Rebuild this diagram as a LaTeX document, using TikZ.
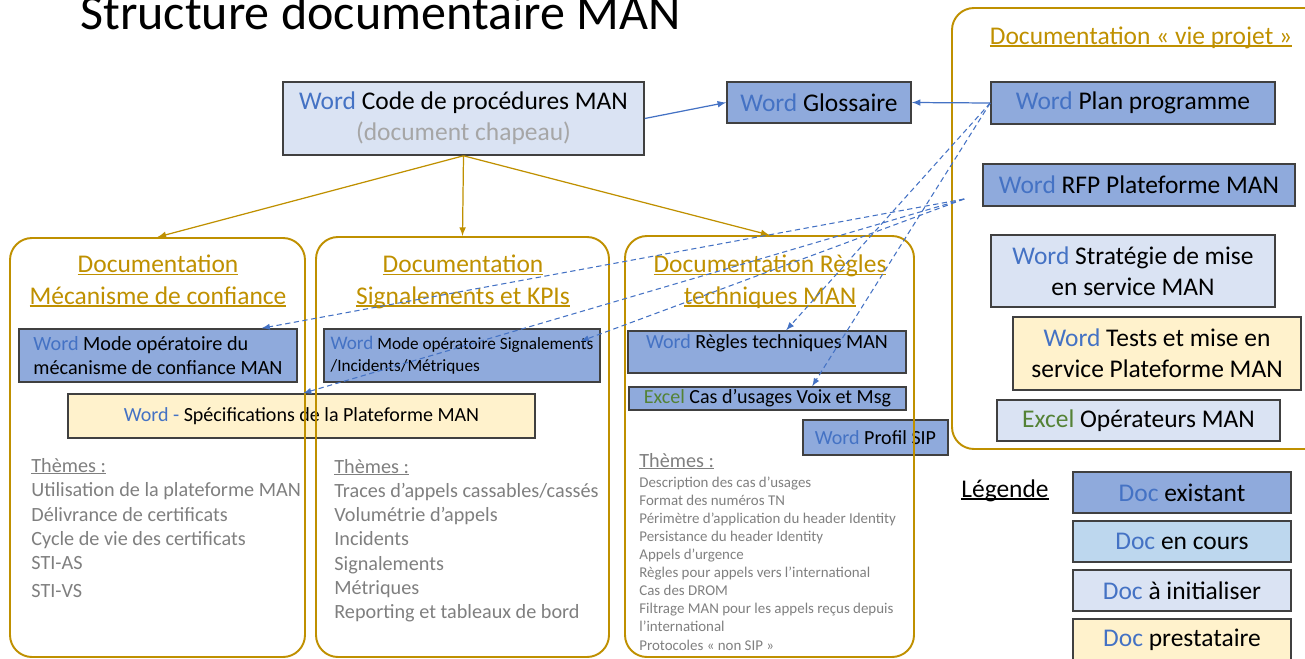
\documentclass[tikz,border=0pt]{standalone}
\usepackage{fontspec}
\setmainfont{Carlito}
\usetikzlibrary{calc}
\definecolor{wordblue}{RGB}{68,114,196}
\definecolor{excelgreen}{RGB}{84,130,53}
\definecolor{docgold}{RGB}{191,144,0}
\definecolor{existfill}{RGB}{143,170,220}
\definecolor{coursfill}{RGB}{189,215,238}
\definecolor{initfill}{RGB}{218,227,243}
\definecolor{prestfill}{RGB}{255,242,204}
\definecolor{themegray}{RGB}{127,127,127}
\definecolor{chapgray}{RGB}{166,166,166}
\newdimen\px \px=0.02cm
\newcommand{\word}{\textcolor{wordblue}{Word}}
\newcommand{\excel}{\textcolor{excelgreen}{Excel}}
\newcommand{\fsz}[2]{\fontsize{#1}{#2}\selectfont}
\newcommand{\ul}[1]{\setbox0\hbox{#1}\rlap{\rule[-0.12em]{\wd0}{0.065em}}\box0}

\begin{document}
\begin{tikzpicture}[x=0.02cm, y=-0.02cm, >=latex,
    box/.style={draw=black!75, line width=0.9pt, inner sep=0pt, align=center, font=\fsz{14.5}{17.8}},
    small/.style={font=\fsz{11.4}{13.6}},
    frame/.style={draw=docgold, line width=1.1pt, rounded corners=0.44cm},
    head/.style={text=docgold, align=center, anchor=base, font=\fsz{14.5}{18.1}},
    theme/.style={text=themegray, anchor=base west, inner sep=0pt, font=\fsz{11.5}{13.8}},
    tiny/.style={text=themegray, anchor=base west, inner sep=0pt, font=\fsz{8.5}{10}},
    down/.style={->, draw=docgold, line width=0.7pt},
    link/.style={->, draw=wordblue, line width=0.7pt},
    ref/.style={->, draw=wordblue, densely dashed, line width=0.6pt}]
    \clip (0,0) rectangle (1305,659);

    \node (title) at (80,30) [anchor=base west, inner sep=0pt, font=\fsz{28.5}{34}] {Structure documentaire MAN};

    % document chapeau
    \node (code) at (463.5,118.5) [box, fill=initfill, minimum width=361\px, minimum height=73\px] {\word{} Code de procédures MAN\\\textcolor{chapgray}{(document chapeau)}};
    \node (gloss) at (819,102.5) [box, fill=existfill, minimum width=184\px, minimum height=41\px] {\word{} Glossaire};

    % vie projet
    \node (plan) at (1133,103) [box, fill=existfill, minimum width=284\px, minimum height=42\px] {\word{} Plan programme};
    \node (rfp) at (1139,185) [box, fill=existfill, minimum width=312\px, minimum height=42\px] {\word{} RFP Plateforme MAN};
    \node (strat) at (1133,271) [box, fill=initfill, minimum width=284\px, minimum height=72\px] {\word{} Stratégie de mise\\en service MAN};
    \node (tests) at (1157,353.5) [box, fill=prestfill, minimum width=288\px, minimum height=73\px] {\word{} Tests et mise en\\service Plateforme MAN};
    \node (oper) at (1138.5,420.5) [box, fill=initfill, minimum width=283\px, minimum height=41\px] {\excel{} Opérateurs MAN};
    \node (vie) at (1146,228.5) [frame, minimum width=388\px, minimum height=441\px] {};
    \node (vietitle) at (1141,44) [head] {\ul{Documentation «~vie projet~»}};

    % legende
    \node (legende) at (1005,497) [anchor=base, font=\fsz{14.5}{18}] {\ul{Légende}};
    \foreach \fc/\txt [count=\i] in {existfill/existant, coursfill/en cours, initfill/à initialiser, prestfill/prestataire}
    \node (leg\i) at (1182,443.5+49*\i) [box, fill=\fc, minimum width=218\px, minimum height=41\px] {\textcolor{wordblue}{Doc} \txt};

    % documents des colonnes
    \node (modeA) at (158,355.5) [box, fill=existfill, minimum width=278\px, minimum height=53\px, align=left, font=\fsz{11.5}{13.6}] {\word{} Mode opératoire du\\mécanisme de confiance MAN};
    \node (modeB) at (462,355.5) [box, fill=existfill, minimum width=276\px, minimum height=53\px, align=left, font=\fsz{9.8}{12.5}] {{\fsz{10.9}{12.5}\word} Mode opératoire Signalements\\/Incidents/Métriques};
    \node (spec) at (301.5,416) [box, fill=prestfill, minimum width=467\px, minimum height=44\px, small] {\textcolor{wordblue}{Word -} Spécifications de la Plateforme MAN};
    \node (regles) at (767,352) [box, fill=existfill, minimum width=278\px, minimum height=42\px] {};
    \node (reglestxt) at ($(regles.north)+(0,18)$) [anchor=base, small] {\word{} Règles techniques MAN};
    \node (cas) at (767.5,398.5) [box, fill=existfill, minimum width=277\px, minimum height=23\px, small] {\excel{} Cas d’usages Voix et Msg};
    \node (sip) at (875.5,437.5) [box, fill=existfill, minimum width=145\px, minimum height=35\px, small] {\word{} Profil SIP};

    % colonnes
    \node (col1) at (157.5,447.5) [frame, minimum width=295\px, minimum height=419\px] {};
    \node (col2) at (462.5,447) [frame, minimum width=293\px, minimum height=420\px] {};
    \node (col3) at (769.5,446.5) [frame, minimum width=289\px, minimum height=421\px] {};
    \node (col1title) at (158,304) [head] {\ul{Documentation}\\\ul{Mécanisme de confiance}};
    \node (col2title) at (463,304) [head] {\ul{Documentation}\\\ul{Signalements et KPIs}};
    \node (col3title) at (770,304) [head] {\ul{Documentation Règles}\\\ul{techniques MAN}};

    % themes
    \node (th1) at (31,472) [theme] {\ul{Thèmes :}};
    \foreach \y/\txt in {496.5/Utilisation de la plateforme MAN, 521/Délivrance de certificats, 545/Cycle de vie des certificats, 569.5/STI-AS, 597/STI-VS}
    \node at (31,\y) [theme] {\txt};
    \node (th2) at (334,473) [theme] {\ul{Thèmes :}};
    \foreach \txt [count=\i] in {Traces d’appels cassables/cassés, Volumétrie d’appels, Incidents, Signalements, Métriques, Reporting et tableaux de bord}
    \node at (334,473+24.3*\i) [theme] {\txt};
    \node (th3) at (639,467) [theme] {\ul{Thèmes :}};
    \foreach \txt [count=\i] in {Description des cas d’usages, Format des numéros TN, Périmètre d’application du header Identity, Persistance du header Identity, Appels d’urgence, Règles pour appels vers l’international, Cas des DROM, Filtrage MAN pour les appels reçus depuis, l’international, Protocoles «~non SIP~»}
    \node at (639,469+18.1*\i) [tiny] {\txt};

    % liens
    \draw [down] (code.south) -- (col1.north);
    \draw [down] (code.south) -- (col2.north);
    \draw [down] (code.south) -- (col3.north);
    \draw [link] (code.east) -- (gloss.west);
    \draw [link] (plan.west) -- (gloss.east);
    \coordinate (rfpout) at ($(rfp.west)+(-18,14)$);
    \draw [ref] (plan.west) -- ($(regles.north west)+(159,0)$);
    \draw [ref] (plan.west) -- ($(cas.north west)+(184,0)$);
    \draw [ref] (rfpout) -- ($(modeA.north east)+(-36,0)$);
    \draw [ref] (rfpout) -- ($(modeB.north east)+(-20,13)$);
    \draw [ref] (rfpout) -- ($(spec.north west)+(236,0)$);
\end{tikzpicture}
\end{document}
